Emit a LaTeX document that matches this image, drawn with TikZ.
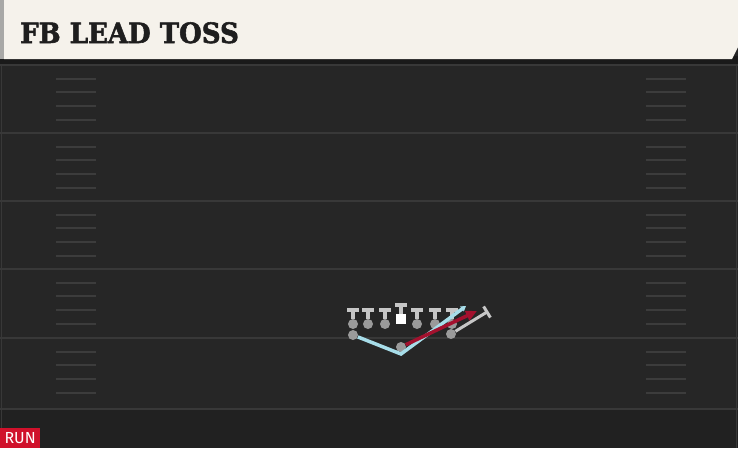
\documentclass[tikz,border=0pt]{standalone}
\usepackage{fontspec}
\usetikzlibrary{calc}
\usetikzlibrary{arrows.meta}
\newfontfamily\titlefont[FakeBold=2]{DejaVu Serif Bold}
\newfontfamily\tagfont{Fira Sans}
\definecolor{fieldgray}{HTML}{262626}
\definecolor{lowgray}{HTML}{212121}
\definecolor{linegray}{HTML}{383838}
\definecolor{hashgray}{HTML}{3C3C3C}
\definecolor{cream}{HTML}{F5F2EB}
\definecolor{edgegray}{HTML}{A8A8A6}
\definecolor{shadowgray}{HTML}{1A1A1A}
\definecolor{playergray}{HTML}{9A9A9A}
\definecolor{blockgray}{HTML}{C6C6C6}
\definecolor{routecyan}{HTML}{A7DDE9}
\definecolor{routered}{HTML}{A3112E}
\definecolor{runred}{HTML}{D0112B}
\definecolor{titleblack}{HTML}{1E1E1E}

\begin{document}
\begin{tikzpicture}[x=1pt,y=-1pt,
	yardline/.style={linegray,line width=2pt},
	hash/.style={hashgray,line width=2pt},
	player/.style={circle,fill=playergray,inner sep=0pt,minimum size=10pt},
	snapper/.style={rectangle,fill=white,inner sep=0pt,minimum width=10pt,minimum height=10pt},
	stem/.style={blockgray,line width=3.5pt},
	tbar/.style={blockgray,line width=4pt},
	leadblock/.style={blockgray,line width=3pt},
	sweep/.style={routecyan,line width=3.5pt,line join=miter,-{Triangle[length=5pt,width=6pt]}},
	toss/.style={routered,line width=3.5pt,-{Triangle[length=11pt,width=10pt]}}]
	
	\useasboundingbox (0,0) rectangle (738,448);
	\fill[fieldgray] (0,0) rectangle (738,448);
	\fill[lowgray] (0,409) rectangle (738,448);
	\draw[linegray,line width=1.5pt] (1.5,60) -- (1.5,448);
	\draw[linegray,line width=1.5pt] (736.5,60) -- (736.5,448);
	
	% yard lines and hashes
	\foreach \y in {65,133,201,269,338,409}
		\draw[yardline] (0,\y) -- (738,\y);
	\foreach \y in {65,133,201,269,338}
		\foreach \k in {1,...,4} {
			\draw[hash] (56,{\y+13.7*\k}) -- (96,{\y+13.7*\k});
			\draw[hash] (646,{\y+13.7*\k}) -- (686,{\y+13.7*\k});
		}
	
	% header
	\fill[shadowgray] (0,56) rectangle (738,64);
	\fill[edgegray] (0,0) rectangle (5,59);
	\fill[cream] (4,0) -- (738,0) -- (738,47) -- (732,59) -- (4,59) -- cycle;
	\node[anchor=base west,inner sep=0pt,text=titleblack,font=\titlefont\fontsize{28}{28}\selectfont] (title) at (20,43) {\scalebox{0.93}[1]{FB LEAD TOSS}};
	
	\node[anchor=south west,fill=runred,text=white,inner sep=0pt,minimum width=40pt,minimum height=20pt,font=\tagfont\fontsize{16}{16}\selectfont] (tag) at (0,448) {RUN};
	
	% line
	\foreach \x [count=\i] in {353,368,385,417,435,452} {
		\coordinate (bk\i) at (\x,310);
		\node[player] (ol\i) at (\x,324) {};
		\draw[stem] (ol\i) -- (bk\i);
		\draw[tbar] ($(bk\i)+(-6,0)$) -- ($(bk\i)+(6,0)$);
	}
	\node[snapper] (c) at (401,319) {};
	\coordinate (bkc) at (401,305);
	\draw[stem] (c) -- (bkc);
	\draw[tbar] ($(bkc)+(-6,0)$) -- ($(bkc)+(6,0)$);
	
	% backs
	\node[player] (lb) at (353,335) {};
	\node[player] (qb) at (401,347) {};
	\node[player] (fb) at (451,334) {};
	\coordinate (cut) at (401,354);
	\coordinate (sweepend) at (466,306);
	\coordinate (tossend) at (477,311);
	\coordinate (fbend) at (487,312);
	
	\draw[leadblock] (fb) -- (fbend);
	\draw[tbar,line width=3pt] ($(fbend)!6.5pt!90:(fb)$) -- ($(fbend)!6.5pt!-90:(fb)$);
	\draw[sweep] (lb) -- (cut) -- (sweepend);
	\draw[toss] (qb) -- (tossend);
	
\end{tikzpicture}
\end{document}
